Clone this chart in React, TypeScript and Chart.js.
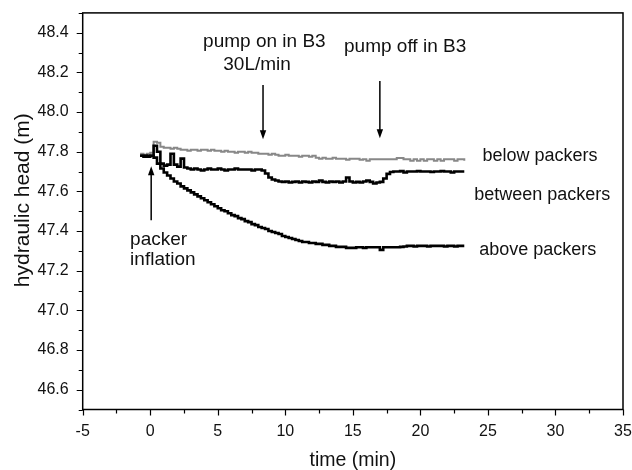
import { useEffect, useRef } from 'react';
import { Chart, registerables } from 'chart.js';

Chart.register(...registerables);

// time (min)
const times = [
  -0.75, -0.5, -0.25, 0, 0.25, 0.5, 0.75, 1, 1.25, 1.5, 1.75, 2, 2.25, 2.5, 2.75, 3,
  3.25, 3.5, 3.75, 4, 4.25, 4.5, 4.75, 5, 5.25, 5.5, 5.75, 6, 6.25, 6.5, 6.75, 7,
  7.25, 7.5, 7.75, 8, 8.25, 8.5, 8.75, 9, 9.25, 9.5, 9.75, 10, 10.25, 10.5, 10.75, 11,
  11.25, 11.5, 11.75, 12, 12.25, 12.5, 12.75, 13, 13.25, 13.5, 13.75, 14, 14.25, 14.5, 14.75, 15,
  15.25, 15.5, 15.75, 16, 16.25, 16.5, 16.75, 17, 17.25, 17.5, 17.75, 18, 18.25, 18.5, 18.75, 19,
  19.25, 19.5, 19.75, 20, 20.25, 20.5, 20.75, 21, 21.25, 21.5, 21.75, 22, 22.25, 22.5, 22.75, 23,
  23.25,
];

// hydraulic head (m)
const belowPackers = [
  47.79, 47.785, 47.79, 47.795, 47.85, 47.845, 47.825, 47.82, 47.82, 47.815, 47.82, 47.815, 47.81, 47.81, 47.805, 47.81,
  47.81, 47.805, 47.81, 47.81, 47.805, 47.81, 47.805, 47.805, 47.8, 47.805, 47.8, 47.8, 47.795, 47.8, 47.8, 47.795,
  47.8, 47.795, 47.795, 47.79, 47.79, 47.79, 47.785, 47.79, 47.785, 47.78, 47.78, 47.785, 47.78, 47.78, 47.78, 47.775,
  47.78, 47.78, 47.775, 47.78, 47.77, 47.765, 47.77, 47.765, 47.765, 47.77, 47.765, 47.765, 47.765, 47.76, 47.765, 47.765,
  47.765, 47.76, 47.762, 47.755, 47.762, 47.762, 47.762, 47.762, 47.762, 47.762, 47.762, 47.762, 47.768, 47.768, 47.762, 47.762,
  47.755, 47.762, 47.755, 47.762, 47.755, 47.762, 47.762, 47.755, 47.762, 47.755, 47.762, 47.762, 47.762, 47.755, 47.762, 47.762,
  47.755,
];

const betweenPackers = [
  47.78, 47.775, 47.78, 47.78, 47.83, 47.8, 47.74, 47.73, 47.735, 47.79, 47.735, 47.725, 47.765, 47.72, 47.715, 47.71,
  47.715, 47.71, 47.705, 47.71, 47.715, 47.71, 47.71, 47.715, 47.71, 47.705, 47.71, 47.71, 47.715, 47.71, 47.71, 47.71,
  47.71, 47.705, 47.71, 47.71, 47.705, 47.69, 47.67, 47.66, 47.655, 47.65, 47.648, 47.65, 47.645, 47.648, 47.65, 47.645,
  47.65, 47.648, 47.645, 47.65, 47.648, 47.655, 47.648, 47.645, 47.65, 47.648, 47.65, 47.645, 47.65, 47.67, 47.65, 47.645,
  47.648, 47.645, 47.65, 47.655, 47.648, 47.64, 47.645, 47.648, 47.665, 47.688, 47.698, 47.7, 47.7, 47.702, 47.695, 47.7,
  47.7, 47.7, 47.702, 47.7, 47.7, 47.7, 47.698, 47.7, 47.7, 47.702, 47.7, 47.7, 47.695, 47.7, 47.7, 47.7,
  47.7,
];

const abovePackers = [
  47.78, 47.78, 47.775, 47.78, 47.77, 47.74, 47.715, 47.695, 47.68, 47.665, 47.65, 47.64, 47.625, 47.615, 47.605, 47.595,
  47.585, 47.575, 47.565, 47.555, 47.545, 47.535, 47.525, 47.515, 47.505, 47.5, 47.49, 47.48, 47.475, 47.465, 47.46, 47.45,
  47.445, 47.435, 47.43, 47.42, 47.415, 47.41, 47.4, 47.395, 47.39, 47.385, 47.375, 47.37, 47.365, 47.36, 47.355, 47.35,
  47.345, 47.345, 47.34, 47.34, 47.335, 47.335, 47.33, 47.33, 47.325, 47.325, 47.32, 47.32, 47.32, 47.315, 47.315, 47.315,
  47.318, 47.318, 47.315, 47.318, 47.318, 47.318, 47.318, 47.305, 47.318, 47.318, 47.318, 47.318, 47.318, 47.32, 47.322, 47.325,
  47.325, 47.322, 47.325, 47.325, 47.325, 47.322, 47.325, 47.325, 47.325, 47.325, 47.322, 47.325, 47.325, 47.322, 47.325, 47.325,
  47.325,
];

// tick labels
const xTickLabels = [-5, 0, 5, 10, 15, 20, 25, 30, 35];
const yTickLabels = [46.6, 46.8, 47.0, 47.2, 47.4, 47.6, 47.8, 48.0, 48.2, 48.4];

// annotation texts (data coordinates)
const textNotes = [
  { text: 'pump on in B3', x: 8.45, y: 48.329, align: 'center' },
  { text: '30L/min', x: 7.91, y: 48.212, align: 'center' },
  { text: 'pump off in B3', x: 18.87, y: 48.304, align: 'center' },
  { text: 'packer', x: -1.49, y: 47.328, align: 'left' },
  { text: 'inflation', x: -1.49, y: 47.227, align: 'left' },
];
const seriesNotes = [
  { text: 'below packers', x: 24.6, y: 47.754 },
  { text: 'between packers', x: 23.98, y: 47.559 },
  { text: 'above packers', x: 24.35, y: 47.281 },
];
// arrows: from (x, yFrom) to head at (x, yTo)
const arrowNotes = [
  { x: 8.35, yFrom: 48.136, yTo: 47.863 },
  { x: 17.0, yFrom: 48.156, yTo: 47.868 },
  { x: 0.07, yFrom: 47.454, yTo: 47.727 },
];

const FONT = '"Liberation Sans", Arial, Helvetica, sans-serif';

const isMultiple = (v: number, step: number) => Math.abs(v / step - Math.round(v / step)) < 1e-6;

const decorPlugin = {
  id: 'decor',
  afterDraw(chart: any) {
    const { ctx, chartArea: a, scales } = chart;
    const xs = scales.x;
    const ys = scales.y;
    ctx.save();
    ctx.strokeStyle = '#000';
    ctx.fillStyle = '#111';
    ctx.lineWidth = 1.5;
    ctx.strokeRect(a.left, a.top, a.right - a.left, a.bottom - a.top);

    ctx.lineWidth = 1.2;
    ctx.beginPath();
    xs.ticks.forEach((t: any) => {
      const px = Math.round(xs.getPixelForValue(t.value)) + 0.5;
      const len = isMultiple(t.value, 5) ? 6 : 4;
      ctx.moveTo(px, a.bottom);
      ctx.lineTo(px, a.bottom + len);
    });
    ys.ticks.forEach((t: any) => {
      const py = Math.round(ys.getPixelForValue(t.value)) + 0.5;
      const len = isMultiple(t.value, 0.2) ? 6 : 4;
      ctx.moveTo(a.left, py);
      ctx.lineTo(a.left - len, py);
    });
    ctx.stroke();

    // arrows
    ctx.lineWidth = 1.5;
    arrowNotes.forEach((ar) => {
      const px = xs.getPixelForValue(ar.x);
      const p1 = ys.getPixelForValue(ar.yFrom);
      const p2 = ys.getPixelForValue(ar.yTo);
      const dir = p2 > p1 ? 1 : -1;
      ctx.beginPath();
      ctx.moveTo(px, p1);
      ctx.lineTo(px, p2 - dir * 6);
      ctx.stroke();
      ctx.beginPath();
      ctx.moveTo(px, p2);
      ctx.lineTo(px - 3.2, p2 - dir * 9);
      ctx.lineTo(px + 3.2, p2 - dir * 9);
      ctx.closePath();
      ctx.fillStyle = '#000';
      ctx.fill();
    });

    // annotation texts
    ctx.fillStyle = '#111';
    ctx.textBaseline = 'alphabetic';
    ctx.font = `19px ${FONT}`;
    textNotes.forEach((n) => {
      ctx.textAlign = n.align as CanvasTextAlign;
      ctx.fillText(n.text, xs.getPixelForValue(n.x), ys.getPixelForValue(n.y));
    });
    ctx.font = `18px ${FONT}`;
    ctx.textAlign = 'left';
    seriesNotes.forEach((n) => {
      ctx.fillText(n.text, xs.getPixelForValue(n.x), ys.getPixelForValue(n.y));
    });

    // axis titles
    ctx.font = `19.5px ${FONT}`;
    ctx.textAlign = 'center';
    ctx.textBaseline = 'alphabetic';
    ctx.fillText('time (min)', (a.left + a.right) / 2, 466);
    ctx.save();
    ctx.font = `21px ${FONT}`;
    ctx.translate(29, (a.top + a.bottom) / 2 - 11);
    ctx.rotate(-Math.PI / 2);
    ctx.fillText('hydraulic head (m)', 0, 0);
    ctx.restore();

    ctx.restore();
  },
};

export default function App() {
  const canvasRef = useRef<HTMLCanvasElement | null>(null);

  useEffect(() => {
    document.body.style.margin = '0';
    document.body.style.overflow = 'hidden';
    const canvas = canvasRef.current;
    if (!canvas) return;
    const mk = (vals: number[]) => vals.map((v, i) => ({ x: times[i], y: v }));
    const chart = new Chart(canvas, {
      type: 'line',
      data: {
        datasets: [
          {
            label: 'above packers',
            data: mk(abovePackers),
            borderColor: '#000',
            borderWidth: 2.6,
            pointRadius: 0,
            stepped: true,
            fill: false,
          },
          {
            label: 'between packers',
            data: mk(betweenPackers),
            borderColor: '#000',
            borderWidth: 2.6,
            pointRadius: 0,
            stepped: true,
            fill: false,
          },
          {
            label: 'below packers',
            data: mk(belowPackers),
            borderColor: '#888888',
            borderWidth: 2,
            pointRadius: 0,
            stepped: true,
            fill: false,
          },
        ],
      },
      options: {
        animation: false,
        responsive: true,
        maintainAspectRatio: false,
        layout: { padding: { top: 12.9, right: 9, left: 0, bottom: 0 } },
        plugins: {
          legend: { display: false },
          tooltip: { enabled: false },
        },
        scales: {
          x: {
            type: 'linear',
            min: -5,
            max: 35,
            afterFit: (s: any) => {
              s.height = 60.5;
              s.paddingLeft = 0;
              s.paddingRight = 0;
            },
            border: { display: false },
            grid: { display: true, drawOnChartArea: false, drawTicks: true, tickLength: 6, tickColor: 'rgba(0,0,0,0)' },
            ticks: {
              stepSize: 2.5,
              autoSkip: false,
              maxRotation: 0,
              padding: 6,
              color: '#111',
              font: { family: FONT, size: 16 },
              callback: (v: any) => {
                const n = Number(v);
                return xTickLabels.some((t) => Math.abs(t - n) < 1e-6) ? String(n) : '';
              },
            },
          },
          y: {
            type: 'linear',
            min: 46.5,
            max: 48.5,
            afterFit: (s: any) => {
              s.width = 82.7;
              s.paddingTop = 0;
              s.paddingBottom = 0;
            },
            border: { display: false },
            grid: { display: true, drawOnChartArea: false, drawTicks: true, tickLength: 6, tickColor: 'rgba(0,0,0,0)' },
            ticks: {
              stepSize: 0.1,
              autoSkip: false,
              padding: 8,
              color: '#111',
              font: { family: FONT, size: 16 },
              callback: (v: any) => {
                const n = Number(v);
                return yTickLabels.some((t) => Math.abs(t - n) < 1e-6) ? n.toFixed(1) : '';
              },
            },
          },
        },
      },
      plugins: [decorPlugin],
    });
    return () => chart.destroy();
  }, []);

  return (
    <div style={{ position: 'relative', width: 632, height: 470 }}>
      <canvas ref={canvasRef} />
    </div>
  );
}
